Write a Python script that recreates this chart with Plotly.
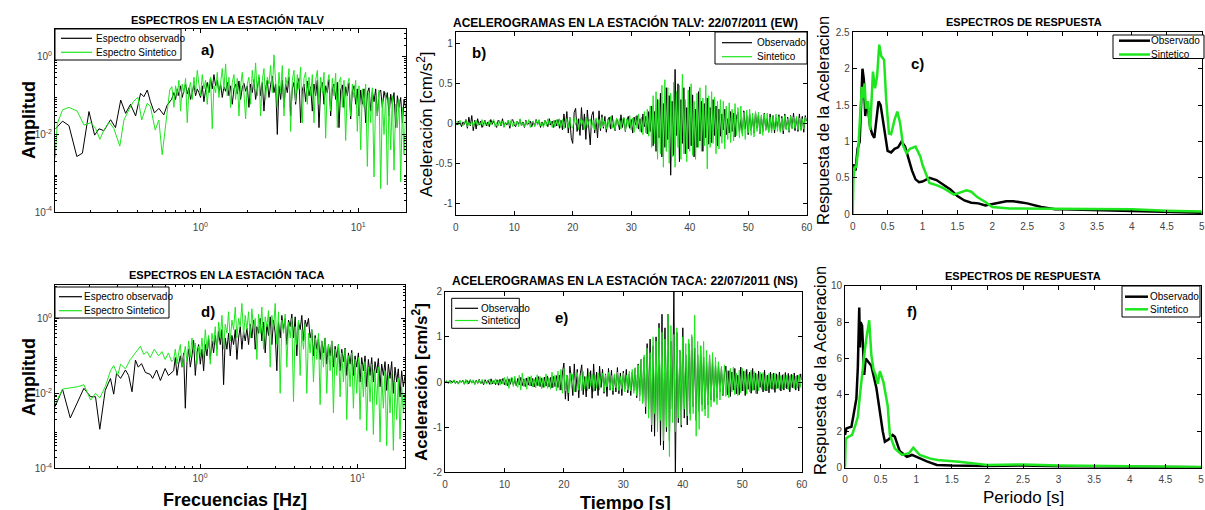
import numpy as np
import plotly.graph_objects as go

# ================= DATA =================
# --- Panel a: espectros TALV (low-frequency part, typed) ---
frec_a_obs_baja = [0.121, 0.134, 0.147, 0.165, 0.179, 0.197, 0.214, 0.228, 0.245, 0.270, 0.290, 0.313,
                   0.336, 0.361, 0.389, 0.418, 0.439, 0.461, 0.483, 0.512, 0.546, 0.587, 0.616, 0.657]
amp_a_obs_baja = [0.014, 0.022, 0.017, 0.0027, 0.0033, 0.039, 0.0096, 0.014, 0.0125, 0.024, 0.015, 0.077,
                  0.035, 0.06, 0.030, 0.115, 0.094, 0.14, 0.07, 0.036, 0.047, 0.032, 0.057, 0.08]
frec_a_sin_baja = [0.120, 0.124, 0.134, 0.147, 0.166, 0.183, 0.202, 0.217, 0.231, 0.245, 0.264, 0.283, 0.309,
                   0.328, 0.352, 0.376, 0.402, 0.425, 0.461, 0.483, 0.518, 0.546, 0.573, 0.601, 0.640, 0.660]
amp_a_sin_baja = [0.0024, 0.019, 0.043, 0.05, 0.04, 0.0175, 0.02, 0.0143, 0.0075, 0.013, 0.021, 0.0143, 0.005,
                  0.0236, 0.043, 0.07, 0.091, 0.0236, 0.064, 0.052, 0.013, 0.0236, 0.003, 0.0175, 0.14, 0.171]
# dense part 0.68 - 20 Hz (log-spaced samples)
amp_a_obs_alta = [0.12, 0.08, 0.15, 0.10, 0.18, 0.09, 0.14, 0.2, 0.11, 0.16, 0.08, 0.13, 0.19, 0.1, 0.15, 0.12,
                  0.09, 0.18, 0.07, 0.14, 0.22, 0.12, 0.28, 0.15, 0.35, 0.18, 0.25, 0.12, 0.2, 0.09, 0.17, 0.13,
                  0.22, 0.1, 0.18, 0.06, 0.15, 0.2, 0.11, 0.24, 0.08, 0.16, 0.21, 0.13, 0.18,
                  0.05, 0.2, 0.12, 0.26, 0.08, 0.18, 0.3, 0.1, 0.22, 0.04, 0.16, 0.25, 0.09, 0.19, 0.32, 0.12, 0.2,
                  0.01, 0.18, 0.08, 0.25, 0.05, 0.2, 0.12, 0.3, 0.03, 0.15, 0.22, 0.06, 0.18, 0.28, 0.02, 0.14,
                  0.2, 0.07, 0.24, 0.1, 0.17,
                  0.04, 0.2, 0.1, 0.25, 0.015, 0.16, 0.22, 0.06, 0.18, 0.12, 0.26, 0.03, 0.15, 0.2, 0.08, 0.22,
                  0.015, 0.14, 0.19, 0.05, 0.17, 0.1, 0.21, 0.025, 0.13, 0.18, 0.06, 0.15,
                  0.03, 0.14, 0.06, 0.15, 0.02, 0.12, 0.16, 0.04, 0.13, 0.07, 0.15, 0.03, 0.12, 0.14, 0.05, 0.13, 0.08,
                  0.12, 0.03, 0.11, 0.06, 0.12, 0.015, 0.1, 0.05, 0.09, 0.02, 0.08, 0.05]
amp_a_sin_alta = [0.05, 0.18, 0.1, 0.25, 0.04, 0.2, 0.12, 0.28, 0.02, 0.15, 0.22, 0.08, 0.3, 0.12, 0.45, 0.2,
                  0.1, 0.35, 0.15, 0.25, 0.06, 0.2, 0.3, 0.014, 0.18, 0.12, 0.4, 0.09, 0.25, 0.5, 0.15, 0.66,
                  0.1, 0.3, 0.05, 0.22, 0.35, 0.08, 0.28, 0.03, 0.18, 0.4, 0.12, 0.025, 0.2,
                  0.3, 0.06, 0.45, 0.15, 0.7, 0.1, 0.35, 0.03, 0.25, 0.5, 0.08, 0.3, 0.2, 0.6, 0.12, 1.13, 0.25,
                  0.05, 0.4, 0.12, 0.6, 0.03, 0.3, 0.18, 0.5, 0.012, 0.25, 0.45, 0.07, 0.35, 0.15, 0.55, 0.02,
                  0.28, 0.4, 0.06, 0.3, 0.1,
                  0.35, 0.02, 0.25, 0.45, 0.06, 0.3, 0.12, 0.4, 0.008, 0.2, 0.35, 0.04, 0.28, 0.1, 0.38, 0.015,
                  0.22, 0.3, 0.05, 0.25, 0.007, 0.18, 0.28, 0.03, 0.2, 0.09, 0.25, 0.012,
                  0.18, 0.004, 0.15, 0.05, 0.2, 0.0015, 0.12, 0.02, 0.16, 0.0008, 0.1, 0.03, 0.14, 0.0004, 0.08, 0.01, 0.12,
                  0.0005, 0.09, 0.004, 0.1, 0.0012, 0.06, 0.015, 0.08, 0.0006, 0.05, 0.003, 0.04]

# --- Panel d: espectros TACA ---
frec_d_obs_baja = [0.12, 0.134, 0.15, 0.167, 0.183, 0.202, 0.217, 0.231, 0.25, 0.27, 0.283, 0.295, 0.313, 0.336,
                   0.352, 0.37, 0.389, 0.405, 0.425, 0.45, 0.483, 0.5, 0.53, 0.56, 0.6, 0.63, 0.66]
amp_d_obs_baja = [0.0044, 0.0128, 0.0022, 0.006, 0.0136, 0.0081, 0.0081, 0.0011, 0.012, 0.025, 0.0095, 0.034,
                  0.025, 0.042, 0.03, 0.011, 0.077, 0.05, 0.062, 0.036, 0.032, 0.025, 0.042, 0.022, 0.046, 0.03, 0.035]
frec_d_sin_baja = [0.12, 0.134, 0.15, 0.167, 0.183, 0.202, 0.217, 0.231, 0.25, 0.27, 0.283, 0.3, 0.313, 0.336,
                   0.361, 0.389, 0.418, 0.439, 0.461, 0.483, 0.512, 0.546, 0.573, 0.6, 0.63, 0.66]
amp_d_sin_baja = [0.005, 0.013, 0.014, 0.015, 0.017, 0.0066, 0.01, 0.0075, 0.015, 0.04, 0.055, 0.03, 0.06, 0.045,
                  0.08, 0.12, 0.18, 0.11, 0.13, 0.09, 0.15, 0.1, 0.13, 0.08, 0.12, 0.07]
amp_d_obs_alta = [0.04, 0.09, 0.03, 0.06, 0.1, 0.05, 0.12, 0.004, 0.07, 0.15, 0.05, 0.1, 0.26, 0.03, 0.12, 0.2,
                  0.06, 0.15, 0.04, 0.2, 0.1, 0.3, 0.08, 0.25, 0.12, 0.35, 0.15, 0.45, 0.2, 0.5, 0.017, 0.3,
                  0.15, 0.4, 0.1, 0.35, 0.2, 0.5, 0.08, 0.3, 0.6, 0.15, 0.45, 0.25, 0.55,
                  0.2, 0.7, 0.3, 0.9, 0.15, 0.6, 0.4, 1.0, 0.25, 0.8, 0.12, 0.7, 0.35, 1.1, 0.2, 0.9, 0.4,
                  0.04, 0.8, 0.3, 1.2, 0.5, 1.0, 0.2, 0.9, 0.6, 1.3, 0.3, 1.1, 0.1, 0.8, 0.5, 1.2, 0.25, 0.9,
                  0.6, 1.0, 0.3,
                  0.5, 0.1, 0.35, 0.15, 0.3, 0.08, 0.25, 0.12, 0.3, 0.06, 0.2, 0.1, 0.25, 0.05, 0.18, 0.09,
                  0.2, 0.04, 0.15, 0.07, 0.16, 0.03, 0.12, 0.06, 0.14, 0.03, 0.1, 0.05,
                  0.12, 0.02, 0.09, 0.04, 0.1, 0.015, 0.08, 0.03, 0.09, 0.02, 0.07, 0.035, 0.085, 0.015, 0.06, 0.03, 0.07,
                  0.012, 0.06, 0.025, 0.07, 0.01, 0.05, 0.02, 0.045, 0.008, 0.04, 0.015, 0.03]
amp_d_sin_alta = [0.08, 0.15, 0.06, 0.12, 0.2, 0.05, 0.1, 0.18, 0.07, 0.25, 0.09, 0.3, 0.12, 0.22, 0.06, 0.18,
                  0.1, 0.3, 0.08, 0.5, 0.15, 0.35, 0.06, 0.4, 0.2, 0.6, 0.1, 0.8, 0.3, 1.2, 0.15, 0.7,
                  0.4, 1.5, 0.25, 0.9, 0.5, 2.0, 0.3, 1.0, 0.6, 2.5, 0.35, 1.2, 0.5,
                  1.5, 0.3, 1.8, 0.5, 1.0, 0.08, 1.3, 0.4, 2.0, 0.15, 1.1, 0.6, 1.6, 0.05, 1.2, 0.5, 2.5,
                  0.2, 1.5, 0.01, 0.9, 0.4, 1.3, 0.05, 0.8, 0.3, 1.0, 0.006, 0.6, 0.2, 0.9, 0.03, 0.5, 0.15, 0.7,
                  0.01, 0.4, 0.12,
                  0.5, 0.02, 0.3, 0.08, 0.4, 0.005, 0.25, 0.05, 0.3, 0.01, 0.2, 0.04, 0.25, 0.003, 0.15, 0.03,
                  0.2, 0.008, 0.12, 0.02, 0.15, 0.002, 0.1, 0.015, 0.12, 0.004, 0.08, 0.01,
                  0.09, 0.002, 0.06, 0.008, 0.07, 0.001, 0.05, 0.006, 0.06, 0.0008, 0.04, 0.005, 0.05, 0.0005, 0.03, 0.004, 0.04,
                  0.0004, 0.03, 0.003, 0.035, 0.0003, 0.02, 0.002, 0.025, 0.0006, 0.015, 0.003, 0.01]

# --- Panel b: acelerogramas TALV EW (0-60 s, dt = 0.25 s) ---
acel_b_obs = [0.01, -0.02, 0.03, 0.01, -0.04, 0.02, -0.01, 0.05, -0.06, 0.08,
              -0.03, 0.10, -0.09, 0.04, -0.07, 0.06, -0.02, 0.03, -0.05, 0.01,
              0.04, -0.03, 0.02, -0.04, 0.05, -0.01, 0.03, -0.02, -0.05, 0.04,
              0.02, -0.03, 0.06, -0.04, 0.01, -0.02, 0.04, -0.06, 0.03, 0.05,
              -0.02, -0.04, 0.03, -0.01, 0.05, -0.03, 0.02, -0.05, 0.04, -0.02,
              0.01, 0.03, -0.04, 0.02, -0.03, 0.05, -0.01, 0.04, -0.05, 0.02,
              -0.03, 0.04, 0.01, -0.04, 0.06, -0.02, 0.03, -0.05, 0.04, -0.03,
              0.05, -0.06, 0.04,
              -0.08, 0.12, -0.05, 0.15, -0.12, 0.08, -0.18, -0.25, 0.14,
              0.19, -0.10, 0.06, -0.15, 0.20, -0.08, 0.12, -0.20, 0.17, -0.05,
              -0.27, 0.10, 0.15, -0.12, 0.05, -0.18, 0.16, -0.09, 0.11,
              -0.06, 0.09, -0.11, 0.04, 0.08, -0.07, 0.10, -0.03, -0.09, 0.06,
              0.02, -0.08, 0.11, -0.05, 0.07, -0.10, 0.03, 0.09, -0.06, 0.05,
              -0.12, 0.08, -0.02, 0.10, -0.07, 0.06, -0.11, 0.12, -0.04, 0.09,
              -0.13, 0.15,
              -0.10, 0.22, -0.28, 0.15, -0.35, 0.30, -0.18, 0.38, -0.42, 0.25,
              -0.30, 0.45, -0.20, 0.35, -0.65, 0.28, -0.40, 0.68, -0.15, 0.50,
              -0.48, 0.30, -0.25, 0.45, -0.38, 0.20, -0.32, 0.46, -0.28, 0.36,
              -0.42, 0.18, -0.30, 0.40, -0.22, 0.28, -0.35, 0.25, -0.18, 0.32,
              -0.26, 0.20, -0.24, 0.30, -0.15, 0.22, -0.28, 0.18,
              -0.16, 0.12, -0.08, 0.18, -0.14, 0.06, -0.12, 0.15, -0.10, 0.13,
              -0.17, 0.09, 0.14, -0.11, 0.05, -0.13, 0.16, -0.07, 0.10, -0.14,
              0.12, -0.09, 0.08, -0.12, 0.14, -0.06, 0.11, -0.13, 0.09, -0.10,
              0.13, -0.08, 0.06, -0.11, 0.12, -0.09, 0.10, -0.12, 0.07, -0.05,
              0.11, -0.10, 0.09, -0.13, 0.12, -0.07, 0.08, -0.11, 0.10, -0.06,
              0.13, -0.09, 0.07, -0.10, 0.12, -0.08, 0.09, -0.11, 0.10, 0.03]
acel_b_sin = [0.01, 0.03, -0.02, 0.04, -0.01, -0.03, 0.02, 0.04, -0.04, 0.01,
              -0.02, 0.03, -0.04, 0.02, 0.04, -0.03, 0.01, -0.02, 0.05, -0.04,
              0.03, -0.01, -0.03, 0.04, -0.02, 0.02, 0.05, -0.04, 0.01, -0.03,
              0.04, -0.02, 0.03, -0.05, 0.02, -0.01, 0.04, -0.03, 0.05, -0.04,
              0.02, -0.02, 0.03, -0.04, 0.06, -0.03, 0.01, -0.04, 0.03, -0.02,
              0.05, -0.05, 0.02, 0.03, -0.04, 0.04, -0.02, 0.05, -0.03, 0.01,
              -0.05, 0.04, -0.03, 0.06, -0.02, 0.03, -0.05, 0.04, -0.04, 0.05,
              -0.03, 0.06, -0.05,
              0.05, -0.07, 0.03, 0.06, -0.05, 0.08, -0.04, -0.06, 0.07, -0.02,
              0.05, -0.08, 0.06, -0.03, 0.04, -0.07, 0.08, -0.05, 0.02, 0.06,
              -0.06, 0.04, -0.08, 0.07, -0.03, 0.05, -0.06, 0.08, -0.04, 0.03,
              -0.07, 0.06, -0.05, 0.09, -0.06, 0.04, -0.08, 0.07, -0.02, 0.06,
              -0.07, 0.05, 0.08, -0.09, 0.06, -0.04, 0.10, -0.08, 0.07, -0.11,
              0.09, -0.06, 0.12, -0.10, 0.08, -0.14, 0.15, -0.12, 0.18, -0.16,
              0.22, -0.30, 0.35, -0.25, 0.40, -0.45, 0.30, -0.38, 0.48, -0.55,
              0.55, -0.35, 0.45, -0.50, 0.38, -0.42, 0.52, -0.55, 0.40, -0.30,
              0.48, -0.45, 0.62, -0.38, 0.30, -0.48, 0.42, -0.35, 0.50, -0.40,
              0.28, -0.45, 0.38, -0.30, 0.45, -0.35, 0.32, -0.28, 0.48, -0.57,
              0.35, -0.30, 0.40, -0.25, 0.33, -0.38, 0.28, -0.32,
              0.30, -0.25, 0.28, -0.32, 0.22, -0.20, 0.26, -0.24, 0.18, -0.22,
              0.25, -0.15, 0.20, -0.18, 0.22, -0.16, 0.14, -0.20, 0.17, -0.12,
              0.18, -0.15, 0.13, -0.17, 0.15, -0.10, 0.14, -0.13, 0.11, -0.15,
              0.12, -0.09, 0.13, -0.11, 0.08, -0.12, 0.10, -0.08, 0.12, -0.10,
              0.09, -0.11, 0.07, -0.09, 0.10, -0.08, 0.06, -0.10, 0.09, -0.07,
              0.08, -0.06, 0.09, -0.08, 0.07, -0.09, 0.06, -0.07, 0.08, 0.02]

# --- Panel e: acelerogramas TACA NS (0-60 s, dt = 0.25 s) ---
acel_e_obs = [0.00, 0.02, -0.03, 0.01, 0.03, -0.02, 0.04, -0.03, 0.02, -0.04,
              0.03, -0.01, 0.04, -0.05, 0.02, 0.03, -0.04, 0.05, -0.02, 0.03,
              -0.05, 0.04, -0.03, 0.06, -0.04, 0.02, -0.06, 0.05, -0.03, 0.04,
              -0.05, 0.07, -0.04, 0.03, -0.06, 0.05, -0.07, 0.06, -0.03, 0.08,
              -0.06, 0.05, -0.08, 0.07, -0.05, 0.09, -0.07, 0.06, -0.09, 0.08,
              -0.06, 0.10, -0.08, 0.07, -0.10, 0.09, -0.07, 0.11, -0.09, 0.08,
              -0.11, 0.10, -0.08, 0.12, -0.10, 0.09, -0.12, 0.11, -0.09, 0.13,
              -0.11, 0.10, -0.13, 0.12, -0.10, 0.14, -0.12, 0.15, -0.18, 0.20,
              0.42, -0.38, 0.15, -0.42, 0.35, 0.10, -0.30, 0.40, -0.22, 0.28,
              -0.35, 0.18, 0.38, -0.28, 0.12, -0.33, 0.30, -0.15, 0.25, -0.36,
              0.40, -0.20, 0.22, -0.30, 0.35, -0.12, 0.28, -0.25, 0.18, -0.32,
              0.30, -0.18, 0.26, -0.28, 0.15, -0.22, 0.32, -0.26, 0.20, -0.30,
              0.24, -0.15, 0.28, -0.24, 0.18, -0.30, 0.22, -0.20, 0.30, -0.35,
              0.40, -0.30, 0.50, -0.45,
              0.55, -0.70, 0.85, -0.60, 0.95, -1.10, 0.80, -1.20, 1.00, -0.90,
              1.30, -1.40, 1.50, -1.50, 1.20, -1.10, 1.50, -1.30, 0.90, -0.60,
              2.10, -2.10, 1.10, -0.90, 0.70, -1.00, 1.20, -0.80, 0.60, -0.95,
              0.85, -0.70, 1.00, -0.55, 0.75, -0.85, 0.60, -0.65, 0.80, -0.50,
              0.55, -0.60, 0.45, -0.50, 0.60, -0.40, 0.48, -0.42, 0.38,
              -0.35, 0.40, -0.22, 0.32, -0.30, 0.18, 0.35, -0.28, 0.25, -0.32,
              0.22, -0.18, 0.30, -0.26, 0.15, -0.28, 0.33, -0.20, 0.24, -0.30,
              0.28, -0.16, 0.22, -0.25, 0.30, -0.18, 0.20, -0.26, 0.24, -0.12,
              0.18, -0.22, 0.26, -0.20, 0.15, -0.24, 0.22, -0.16, 0.20, -0.23,
              0.18, -0.14, 0.22, -0.20, 0.16, -0.18, 0.21, -0.15, 0.19, -0.22,
              0.17, -0.13, 0.20, -0.18, 0.15, -0.20, 0.18, 0.05]
acel_e_sin = [0.00, 0.03, -0.02, 0.04, -0.04, 0.02, 0.05, -0.03, 0.01, -0.05,
              0.04, -0.02, 0.03, -0.04, 0.06, -0.05, 0.02, 0.04, -0.03, 0.05,
              -0.06, 0.03, -0.02, 0.05, -0.04, 0.06, -0.03, 0.02, -0.05, 0.04,
              0.06, -0.06, 0.03, -0.04, 0.07, -0.05, 0.04, -0.07, 0.06, -0.05,
              0.10, -0.08, 0.12, -0.14, 0.06, 0.11, -0.10, 0.13, -0.06, -0.12,
              0.15, -0.18, 0.20, -0.10, 0.08, -0.16, 0.12, -0.09, 0.14, -0.11,
              0.07, -0.13, 0.16, -0.08, 0.12, -0.15, 0.10, -0.12, 0.18, -0.14,
              0.09, -0.16, 0.22, -0.12, 0.15, -0.20, 0.24, -0.18, 0.28, -0.25,
              0.30, -0.20, 0.15, -0.24, 0.20, -0.12, 0.18, -0.22, 0.10, 0.21,
              -0.18, 0.14, -0.20, 0.23, -0.15, 0.12, -0.19, 0.22, -0.10, 0.17,
              -0.21, 0.15, -0.14, 0.20, -0.18, 0.12, 0.19, -0.22, 0.16, -0.11,
              0.21, -0.17, 0.14, -0.20, 0.18, -0.13, 0.22, -0.19, 0.12, -0.16,
              0.20, -0.22, 0.15, -0.18, 0.24, -0.20, 0.28, -0.25, 0.32, -0.30,
              0.38, -0.42, 0.50, -0.48,
              0.60, -0.55, 0.75, -0.80, 0.65, -0.95, 1.00, -0.70, 0.90, -1.10,
              1.20, -0.85, 1.10, -1.30, 0.95, -1.00, 1.50, -1.65, 1.25, -0.90,
              1.05, -1.10, 1.20, -0.80, 0.70, -0.95, 1.00, -0.60, 0.85, -0.75,
              0.95, -0.85, 1.05, -0.70, 1.48, -1.20, 0.90, -1.05, 0.80, -0.65,
              0.90, -0.75, 0.70, -0.80, 0.60, -0.55, 0.65, -0.45, 0.55, -0.50, 0.45,
              -0.40, 0.35, -0.28, 0.38, -0.32, 0.25, -0.35, 0.30, -0.22, 0.33,
              -0.28, 0.20, -0.30, 0.26, -0.24, 0.30, -0.20, 0.25, -0.27, 0.18,
              -0.22, 0.26, -0.19, 0.23, -0.25, 0.17, -0.20, 0.22, -0.16, 0.21,
              -0.18, 0.15, -0.20, 0.19, -0.14, 0.18, -0.17, 0.20, -0.15, 0.16,
              -0.18, 0.14, -0.16, 0.17, -0.13, 0.15, -0.17, 0.14, -0.12, 0.16,
              -0.15, 0.13, -0.14, 0.15, -0.12, 0.18]

# --- Panel c: espectros de respuesta TALV ---
periodo_c_obs = [0, 0.02, 0.04, 0.07, 0.1, 0.12, 0.14, 0.16, 0.18, 0.2, 0.22, 0.25, 0.28, 0.31, 0.34, 0.37, 0.4,
                 0.45, 0.5, 0.55, 0.6, 0.65, 0.7, 0.75, 0.8, 0.85, 0.9, 0.95, 1.0, 1.1, 1.2, 1.3, 1.4, 1.5, 1.6,
                 1.7, 1.8, 1.9, 2.0, 2.2, 2.3, 2.5, 2.7, 2.9, 3.0, 3.5, 4.0, 4.5, 5.0]
sa_c_obs = [0.65, 0.68, 0.6, 0.9, 1.0, 1.6, 2.0, 1.85, 1.35, 1.55, 1.45, 1.2, 1.1, 1.05, 1.3, 1.55, 1.5,
            1.2, 0.87, 0.85, 0.9, 0.92, 1.0, 0.93, 0.75, 0.6, 0.48, 0.44, 0.45, 0.5, 0.47, 0.4, 0.34, 0.25, 0.19,
            0.16, 0.15, 0.12, 0.14, 0.18, 0.18, 0.15, 0.1, 0.07, 0.07, 0.06, 0.05, 0.03, 0.02]
periodo_c_sin = [0, 0.01, 0.03, 0.05, 0.08, 0.1, 0.13, 0.15, 0.17, 0.19, 0.22, 0.25, 0.27, 0.29, 0.32, 0.35,
                 0.38, 0.41, 0.45, 0.48, 0.52, 0.55, 0.6, 0.64, 0.68, 0.72, 0.77, 0.82, 0.9, 0.97, 1.0, 1.05,
                 1.1, 1.2, 1.3, 1.45, 1.55, 1.63, 1.7, 1.78, 1.9, 2.0, 2.25, 2.5, 3.0, 3.5, 4.0, 4.5, 5.0]
sa_c_sin = [0.0, 0.5, 0.65, 0.65, 0.9, 1.3, 1.75, 1.6, 1.8, 1.45, 1.55, 1.16, 1.5, 1.96, 1.73, 1.9,
            2.33, 2.17, 2.12, 1.57, 1.11, 1.1, 1.3, 1.41, 1.25, 0.95, 0.84, 0.9, 0.93, 0.79, 0.68, 0.55,
            0.43, 0.4, 0.36, 0.27, 0.3, 0.33, 0.31, 0.24, 0.17, 0.1, 0.08, 0.08, 0.08, 0.08, 0.07, 0.05, 0.04]

# --- Panel f: espectros de respuesta TACA ---
periodo_f_obs = [0, 0.02, 0.05, 0.09, 0.12, 0.16, 0.18, 0.2, 0.21, 0.22, 0.24, 0.27, 0.29, 0.33, 0.37, 0.44,
                 0.49, 0.53, 0.56, 0.61, 0.67, 0.7, 0.77, 0.87, 0.94, 1.05, 1.15, 1.29, 1.5, 2.0, 2.5, 3.0, 3.5,
                 4.0, 5.0]
sa_f_obs = [1.8, 2.16, 2.2, 2.25, 2.9, 3.8, 5.5, 8.8, 6.6, 8.0, 7.8, 5.1, 6.0, 5.8, 5.6, 4.4,
            2.9, 2.0, 1.43, 1.55, 1.8, 1.7, 0.9, 0.6, 0.7, 0.5, 0.35, 0.15, 0.12, 0.1, 0.12, 0.08, 0.07,
            0.05, 0.03]
periodo_f_sin = [0, 0.01, 0.05, 0.1, 0.15, 0.18, 0.21, 0.25, 0.28, 0.3, 0.34, 0.37, 0.4, 0.43, 0.46, 0.49,
                 0.54, 0.6, 0.63, 0.7, 0.8, 0.9, 0.96, 1.05, 1.2, 1.3, 1.6, 2.0, 2.5, 3.0, 3.5, 4.0, 5.0]
sa_f_sin = [0.0, 1.6, 1.7, 1.8, 2.4, 2.8, 4.0, 5.6, 6.5, 7.1, 8.1, 6.2, 5.4, 5.1, 4.6, 5.3,
            4.7, 3.4, 1.8, 1.06, 0.7, 0.8, 1.1, 0.7, 0.5, 0.42, 0.33, 0.15, 0.18, 0.12, 0.1, 0.07, 0.04]

# legend labels
etiquetas_espectro = ["Espectro observado", "Espectro Sintetico"]
etiquetas_serie = ["Observado", "Sintetico"]

# ================= FIGURE =================
NEGRO = "#000000"
VERDE = "#1ee61e"
FONT = "Liberation Sans"
W, H = 1205, 510


def fx(px):
    return px / W


def fy(py):
    return 1 - py / H


fig = go.Figure()


def espectro(f_baja, a_baja, a_alta):
    f_alta = np.geomspace(0.68, 20, len(a_alta))
    return list(f_baja) + list(f_alta), list(a_baja) + list(a_alta)


def add(x, y, color, width, name, ax):
    fig.add_trace(go.Scatter(x=x, y=y, mode="lines", line=dict(color=color, width=width), name=name,
                             xaxis="x" + ax, yaxis="y" + ax, showlegend=False))


x, y = espectro(frec_a_obs_baja, amp_a_obs_baja, amp_a_obs_alta)
add(x, y, NEGRO, 1, etiquetas_espectro[0], "")
x, y = espectro(frec_a_sin_baja, amp_a_sin_baja, amp_a_sin_alta)
add(x, y, VERDE, 1, etiquetas_espectro[1], "")
add(np.linspace(0, 60, len(acel_b_obs)), acel_b_obs, NEGRO, 1, etiquetas_serie[0], "2")
add(np.linspace(0, 60, len(acel_b_sin)), acel_b_sin, VERDE, 1, etiquetas_serie[1], "2")
add(periodo_c_obs, sa_c_obs, NEGRO, 2.5, etiquetas_serie[0], "3")
add(periodo_c_sin, sa_c_sin, VERDE, 2.5, etiquetas_serie[1], "3")
x, y = espectro(frec_d_obs_baja, amp_d_obs_baja, amp_d_obs_alta)
add(x, y, NEGRO, 1, etiquetas_espectro[0], "4")
x, y = espectro(frec_d_sin_baja, amp_d_sin_baja, amp_d_sin_alta)
add(x, y, VERDE, 1, etiquetas_espectro[1], "4")
add(np.linspace(0, 60, len(acel_e_obs)), acel_e_obs, NEGRO, 1, etiquetas_serie[0], "5")
add(np.linspace(0, 60, len(acel_e_sin)), acel_e_sin, VERDE, 1, etiquetas_serie[1], "5")
add(periodo_f_obs, sa_f_obs, NEGRO, 2.5, etiquetas_serie[0], "6")
add(periodo_f_sin, sa_f_sin, VERDE, 2.5, etiquetas_serie[1], "6")

tickfont = dict(family=FONT, size=10, color="#444444")
base = dict(showgrid=False, zeroline=False, showline=True, linecolor="black", linewidth=1,
            mirror="ticks", ticks="inside", ticklen=4, tickcolor="black", tickfont=tickfont)

log_x_minor = [m * 10 ** e for e in (-1, 0, 1) for m in range(2, 10)]
log_y_minor = [m * 10 ** e for e in (-4, -3, -2, -1, 0) for m in range(2, 10)]
log_x = dict(base, type="log", range=[np.log10(0.12), np.log10(20)], tickvals=[1, 10],
             ticktext=["10<sup>0</sup>", "10<sup>1</sup>"],
             minor=dict(tickvals=log_x_minor, ticks="inside", ticklen=2, tickcolor="black"))
log_y_vals = [1e-4, 1e-2, 1]
log_y_text = ["10<sup>-4</sup>", "10<sup>-2</sup>", "10<sup>0</sup>"]


def dom(a, b):
    return [fx(a), fx(b)]


def domy(top, bot):
    return [fy(bot), fy(top)]


t60 = [0, 10, 20, 30, 40, 50, 60]
t5 = [0, 0.5, 1, 1.5, 2, 2.5, 3, 3.5, 4, 4.5, 5]
t5txt = ["0", "0.5", "1", "1.5", "2", "2.5", "3", "3.5", "4", "4.5", "5"]

fig.update_layout(
    width=W, height=H, margin=dict(l=0, r=0, t=0, b=0, autoexpand=False),
    paper_bgcolor="white", plot_bgcolor="white",
    font=dict(family=FONT, color="black"),
    showlegend=False,
    xaxis=dict(log_x, domain=dom(55, 405.7), anchor="y", ticklabelstandoff=6),
    yaxis=dict(base, type="log", range=[-4, 0.72], domain=domy(29, 212), anchor="x",
               tickvals=log_y_vals, ticktext=log_y_text,
               minor=dict(tickvals=log_y_minor, ticks="inside", ticklen=2, tickcolor="black")),
    xaxis2=dict(base, range=[0, 60], domain=dom(455.7, 806.7), anchor="y2", tickvals=t60,
                ticktext=[str(v) for v in t60], ticklabelstandoff=3),
    yaxis2=dict(base, range=[-1.15, 1.15], domain=domy(32, 215), anchor="x2",
                tickvals=[-1, -0.5, 0, 0.5, 1], ticktext=["-1", "-0.5", "0", "0.5", "1"]),
    xaxis3=dict(base, range=[0, 5], domain=dom(852.7, 1201.7), anchor="y3", tickvals=t5, ticktext=t5txt,
                ticklabelstandoff=3),
    yaxis3=dict(base, range=[0, 2.5], domain=domy(32.3, 214.3), anchor="x3",
                tickvals=[0, 0.5, 1, 1.5, 2, 2.5], ticktext=["0", "0.5", "1", "1.5", "2", "2.5"]),
    xaxis4=dict(log_x, domain=dom(55, 405), anchor="y4", ticklabelstandoff=1),
    yaxis4=dict(base, type="log", range=[-4, 0.89], domain=domy(285, 468.3), anchor="x4",
                tickvals=log_y_vals, ticktext=log_y_text,
                minor=dict(tickvals=log_y_minor, ticks="inside", ticklen=2, tickcolor="black")),
    xaxis5=dict(base, range=[0, 60], domain=dom(445, 801.7), anchor="y5", tickvals=t60,
                ticktext=[str(v) for v in t60], ticklabelstandoff=3),
    yaxis5=dict(base, range=[-2, 2], domain=domy(291.7, 472.3), anchor="x5",
                tickvals=[-2, -1, 0, 1, 2], ticktext=["-2", "-1", "0", "1", "2"]),
    xaxis6=dict(base, range=[0, 5], domain=dom(845, 1201), anchor="y6", tickvals=t5, ticktext=t5txt,
                ticklabelstandoff=2),
    yaxis6=dict(base, range=[0, 10], domain=domy(285.7, 467.7), anchor="x6",
                tickvals=[0, 2, 4, 6, 8, 10], ticktext=["0", "2", "4", "6", "8", "10"]),
)

ann = []
shapes = []


def texto(s, px, py, size, bold=True, angle=0, anchor="center"):
    ann.append(dict(text=("<b>%s</b>" % s) if bold else s, x=fx(px), y=fy(py), xref="paper", yref="paper",
                    showarrow=False, textangle=angle, xanchor=anchor, yanchor="middle",
                    font=dict(family=FONT, size=size, color="black")))


def leyenda(box, filas, lx0, lx1, tx, etiquetas, lw, size=10):
    x0, y0, x1, y1 = box
    shapes.append(dict(type="rect", xref="paper", yref="paper", x0=fx(x0), x1=fx(x1), y0=fy(y1), y1=fy(y0),
                       line=dict(color="black", width=1), fillcolor="white", layer="above"))
    for fila, et, col in zip(filas, etiquetas, [NEGRO, VERDE]):
        shapes.append(dict(type="line", xref="paper", yref="paper", x0=fx(lx0), x1=fx(lx1), y0=fy(fila),
                           y1=fy(fila), line=dict(color=col, width=lw), layer="above"))
        texto(et, tx, fila, size, bold=False, anchor="left")


leyenda((55, 29, 181, 60), (38.3, 52.3), 61, 92, 94, etiquetas_espectro, 1.2)
leyenda((715, 32, 807, 64), (42.7, 56.7), 722, 752, 755, etiquetas_serie, 1.2)
leyenda((1113, 35, 1204, 58.5), (40.7, 54.5), 1119, 1150, 1149, etiquetas_serie, 2.5)
leyenda((55, 287, 169, 318), (296.7, 310.7), 59, 82, 82, etiquetas_espectro, 1.2)
leyenda((451.7, 298.3, 519.3, 328.3), (308.3, 320.5), 455, 478, 479, etiquetas_serie, 1.2)
leyenda((1122, 286, 1200, 317), (296.7, 309.3), 1125, 1148, 1148, etiquetas_serie, 2.5)

# titles
texto("ESPECTROS EN LA ESTACIÓN TALV", 227, 20, 11)
texto("ACELEROGRAMAS EN LA ESTACIÓN TALV: 22/07/2011 (EW)", 625.5, 22.5, 12)
texto("ESPECTROS DE RESPUESTA", 1024, 22, 11)
texto("ESPECTROS EN LA ESTACIÓN TACA", 226, 275, 11)
texto("ACELEROGRAMAS EN LA ESTACIÓN TACA: 22/07/2011 (NS)", 624.7, 280, 12)
texto("ESPECTROS DE RESPUESTA", 1023, 275.7, 11)
# axis titles
texto("Amplitud", 29, 120, 18, angle=-90)
texto("Aceleración [cm/s<sup>2</sup>]", 425, 124, 17, bold=False, angle=-90)
texto("Respuesta de la Aceleracion", 823, 121, 16.5, bold=False, angle=-90)
texto("Amplitud", 29, 377, 18, angle=-90)
texto("Aceleración [cm/s<sup>2</sup>]", 420, 382, 17, angle=-90)
texto("Respuesta de la Aceleracion", 820, 371, 16.5, bold=False, angle=-90)
texto("Frecuencias [Hz]", 235, 500, 18)
texto("Tiempo [s]", 625, 503, 18)
texto("Periodo [s]", 1023, 497, 17, bold=False)
# panel letters
texto("a)", 207, 50, 15)
texto("b)", 479, 53, 15)
texto("c)", 917, 63, 15)
texto("d)", 208, 311.5, 15)
texto("e)", 561, 317, 15)
texto("f)", 912, 311, 15)

fig.update_layout(annotations=ann, shapes=shapes)
fig.write_html("out.html", config={"displayModeBar": False},
               post_script="document.body.style.margin='0px';document.body.style.overflow='hidden';")
